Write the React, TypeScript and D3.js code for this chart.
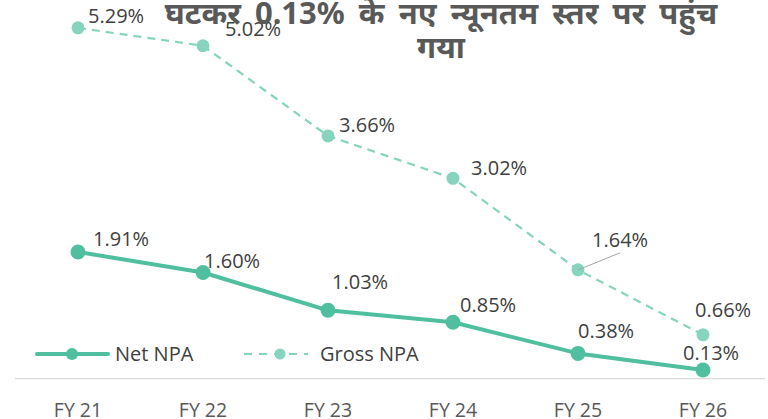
import React from "react";
import * as d3 from "d3";

const categories = ["FY 21", "FY 22", "FY 23", "FY 24", "FY 25", "FY 26"];
const netNPA = [1.91, 1.6, 1.03, 0.85, 0.38, 0.13];
const grossNPA = [5.29, 5.02, 3.66, 3.02, 1.64, 0.66];
const titleLines = ["घटकर 0.13% के नए न्यूनतम स्तर पर पहुंच", "गया"];
const seriesNames = ["Net NPA", "Gross NPA"];

// label placement (layout only): dx, dy relative to point
const netLabelPos: [number, number][] = [
  [15, -6],
  [1, -5],
  [4, -21],
  [7, -10],
  [0, -15],
  [-20, -10],
];
const grossLabelPos: [number, number][] = [
  [10, -5],
  [22, -10],
  [11, -4],
  [18, -3],
  [14, -23],
  [-8, -18],
];

const W = 768;
const H = 419;
const NET_COLOR = "#4fbf9f";
const GROSS_COLOR = "#86d4be";
const TEXT = "#404040";
const FONT = "'Open Sans', 'Noto Sans', sans-serif";

export default function App() {
  const x = d3.scalePoint<string>().domain(categories).range([78, 703]);
  const y = d3.scaleLinear().domain([0, 6]).range([378.6, 378.6 - 6 * 66.3]);
  const lineGen = d3
    .line<number>()
    .x((_, i) => x(categories[i]) as number)
    .y((d) => y(d));

  const fx = x(categories[4]) as number;
  const fy = y(grossNPA[4]);

  return (
    <svg
      width={W}
      height={H}
      style={{ position: "absolute", left: 0, top: 0, background: "#fff" }}
    >
      {/* axis line */}
      <line x1={15} x2={765} y1={y(0)} y2={y(0)} stroke="#d9d9d9" strokeWidth={1.2} />
      {categories.map((c) => (
        <text
          key={c}
          x={x(c)}
          y={417}
          textAnchor="middle"
          fontFamily={FONT}
          fontSize={19.5}
          fill="#595959"
        >
          {c}
        </text>
      ))}

      {/* gross line */}
      <path
        d={lineGen(grossNPA) || ""}
        fill="none"
        stroke={GROSS_COLOR}
        strokeWidth={2.2}
        strokeDasharray="8,6"
      />
      {grossNPA.map((v, i) => (
        <circle key={"g" + i} cx={x(categories[i])} cy={y(v)} r={6.5} fill={GROSS_COLOR} />
      ))}
      {/* leader line for FY25 gross */}
      <line x1={fx} y1={fy} x2={fx + 42} y2={fy - 17} stroke="#a6a6a6" strokeWidth={1} />

      {/* net line */}
      <path d={lineGen(netNPA) || ""} fill="none" stroke={NET_COLOR} strokeWidth={4} strokeLinejoin="round" />
      {netNPA.map((v, i) => (
        <circle key={"n" + i} cx={x(categories[i])} cy={y(v)} r={7.5} fill={NET_COLOR} />
      ))}

      {/* labels */}
      {grossNPA.map((v, i) => (
        <text
          key={"gl" + i}
          x={(x(categories[i]) as number) + grossLabelPos[i][0]}
          y={y(v) + grossLabelPos[i][1]}
          fontFamily={FONT}
          fontSize={20}
          fill={TEXT}
        >
          {v.toFixed(2)}%
        </text>
      ))}
      {netNPA.map((v, i) => (
        <text
          key={"nl" + i}
          x={(x(categories[i]) as number) + netLabelPos[i][0]}
          y={y(v) + netLabelPos[i][1]}
          fontFamily={FONT}
          fontSize={20}
          fill={TEXT}
        >
          {v.toFixed(2)}%
        </text>
      ))}

      {/* legend */}
      <line x1={37} x2={108} y1={354} y2={354} stroke={NET_COLOR} strokeWidth={4} strokeLinecap="round" />
      <circle cx={72} cy={354} r={6} fill={NET_COLOR} />
      <text x={115} y={361} fontFamily={FONT} fontSize={20} fill={TEXT}>
        {seriesNames[0]}
      </text>
      <line x1={244} x2={308} y1={354} y2={354} stroke={GROSS_COLOR} strokeWidth={2} strokeDasharray="8,7" />
      <circle cx={280} cy={354} r={5.5} fill={GROSS_COLOR} />
      <text x={320} y={361} fontFamily={FONT} fontSize={20} fill={TEXT}>
        {seriesNames[1]}
      </text>

      {/* title */}
      <text
        x={441}
        y={24}
        textAnchor="middle"
        fontFamily="'Noto Sans', 'Open Sans', sans-serif"
        fontWeight="bold"
        fontSize={31}
        fill="#595959"
        style={{ wordSpacing: "6px" }}
      >
        {titleLines[0]}
      </text>
      <text
        x={441}
        y={58}
        textAnchor="middle"
        fontFamily="'Noto Sans', 'Open Sans', sans-serif"
        fontWeight="bold"
        fontSize={31}
        fill="#595959"
      >
        {titleLines[1]}
      </text>
    </svg>
  );
}
